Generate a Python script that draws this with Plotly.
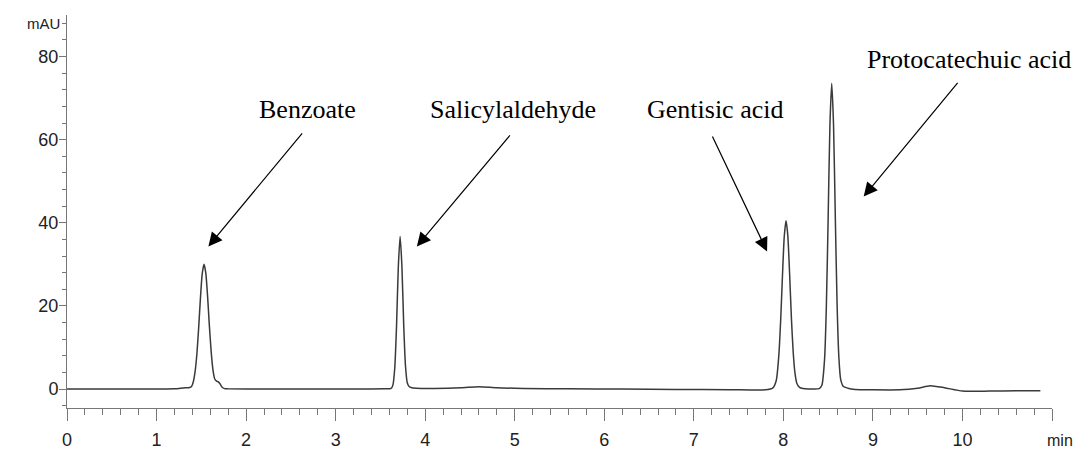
import plotly.graph_objects as go

# ---------------- data ----------------
time_min = [0.00, 0.60, 1.20, 1.30, 1.37, 1.39, 1.41, 1.43, 1.45, 1.47, 1.49, 1.51, 1.53,
            1.55, 1.57, 1.59, 1.61, 1.63, 1.65, 1.67, 1.69, 1.71, 1.73, 1.76, 1.80, 2.20,
            2.80, 3.30, 3.55, 3.62, 3.64, 3.66, 3.68, 3.70, 3.72, 3.74, 3.76, 3.78, 3.80,
            3.82, 3.85, 3.90, 4.10, 4.40, 4.60, 4.80, 5.10, 5.60, 6.20, 6.80, 7.40, 7.80,
            7.88, 7.92, 7.95, 7.97, 7.99, 8.01, 8.03, 8.05, 8.07, 8.09, 8.11, 8.13, 8.15,
            8.18, 8.22, 8.28, 8.34, 8.40, 8.43, 8.46, 8.48, 8.50, 8.52, 8.54, 8.56, 8.58,
            8.60, 8.62, 8.64, 8.67, 8.72, 8.80, 9.00, 9.30, 9.50, 9.64, 9.80, 10.00, 10.30,
            10.60, 10.87]
absorbance_mAU = [0.0, 0.0, 0.05, 0.25, 0.35, 0.6, 1.7, 4.1, 8.3, 14.6, 21.8, 27.7, 30.0,
                  27.9, 22.3, 15.2, 9.0, 4.6, 2.4, 1.9, 1.7, 1.2, 0.5, 0.1, 0.05, 0.0,
                  0.0, 0.0, 0.05, 0.15, 1.0, 5.0, 15.1, 29.4, 36.7, 29.6, 15.6, 5.6, 1.5,
                  0.6, 0.3, 0.2, 0.15, 0.3, 0.55, 0.3, 0.15, 0.05, 0.0, -0.1, -0.15, -0.2,
                  0.2, 2.0, 8.3, 16.6, 27.3, 36.7, 40.5, 36.8, 27.6, 17.0, 8.8, 3.8, 1.4,
                  0.4, 0.1, 0.0, 0.0, 0.1, 0.9, 7.1, 19.8, 41.0, 63.6, 73.6, 63.8, 41.5,
                  20.4, 7.6, 2.3, 0.6, 0.2, -0.1, -0.2, -0.2, 0.2, 0.8, 0.3, -0.5, -0.5,
                  -0.4, -0.4]

compounds = ["Benzoate", "Salicylaldehyde", "Gentisic acid", "Protocatechuic acid"]
x_ticks = [0, 1, 2, 3, 4, 5, 6, 7, 8, 9, 10, 11]
x_tick_labels = ["0", "1", "2", "3", "4", "5", "6", "7", "8", "9", "10", ""]
y_ticks = [0, 20, 40, 60, 80]
y_tick_labels = ["0", "20", "40", "60", "80"]

# ---------------- layout helpers (label / arrow placement) ----------------
label_pos = [  # (x, y, xanchor)
    (2.687, 67.2, "center"),
    (4.034, 67.2, "left"),
    (7.240, 67.2, "center"),
    (10.07, 79.4, "center"),
]
arrows = [  # (tail_x, tail_y, tip_x, tip_y)
    (2.640, 61.9, 1.579, 34.3),
    (4.960, 61.4, 3.907, 34.3),
    (7.200, 61.1, 7.818, 33.1),
    (9.960, 74.0, 8.897, 46.3),
]

AX = "#777777"
fig = go.Figure()
fig.add_trace(go.Scatter(x=time_min, y=absorbance_mAU, mode="lines",
                         line=dict(color="#3a3a3a", width=1.5, shape="spline", smoothing=0.6),
                         hoverinfo="skip"))

ann = []
for name, (lx, ly, anc) in zip(compounds, label_pos):
    ann.append(dict(x=lx, y=ly, xref="x", yref="y", text=name, showarrow=False,
                    xanchor=anc, yanchor="middle",
                    font=dict(family="Liberation Serif", size=26, color="black")))
for (tx, ty, hx, hy) in arrows:
    ann.append(dict(x=hx, y=hy, ax=tx, ay=ty, xref="x", yref="y", axref="x", ayref="y",
                    text="", showarrow=True, arrowhead=2, arrowsize=2.3, arrowwidth=1.2,
                    arrowcolor="black"))
ann.append(dict(x=0, y=88, xref="paper", yref="y", text="mAU", showarrow=False,
                xanchor="right", yanchor="middle", xshift=-5,
                font=dict(family="Liberation Sans", size=15, color="#222")))
ann.append(dict(x=1, y=0, xref="paper", yref="paper", text="min", showarrow=False,
                xanchor="center", yanchor="middle", xshift=8, yshift=-32,
                font=dict(family="Liberation Sans", size=16, color="#222")))

fig.update_layout(
    width=1082, height=452,
    margin=dict(l=67, r=30, t=15, b=44),
    plot_bgcolor="white", paper_bgcolor="white",
    showlegend=False,
    annotations=ann,
    xaxis=dict(range=[0, 11], showgrid=False, zeroline=False, showline=True,
               automargin=False,
               linecolor=AX, linewidth=1, ticks="outside", ticklen=12, tickcolor=AX,
               tickwidth=1, tickmode="array", tickvals=x_ticks, ticktext=x_tick_labels,
               ticklabelstandoff=3,
               tickfont=dict(family="Liberation Sans", size=18, color="#222"),
               minor=dict(ticks="outside", dtick=0.2, tick0=0, ticklen=6, tickcolor=AX,
                          tickwidth=1, showgrid=False)),
    yaxis=dict(range=[-4.57, 90], showgrid=False, zeroline=False, showline=True,
               automargin=False,
               linecolor=AX, linewidth=1, ticks="outside", ticklen=7, tickcolor=AX,
               tickwidth=1, tickmode="array", tickvals=y_ticks, ticktext=y_tick_labels,
               ticklabelstandoff=-3,
               tickfont=dict(family="Liberation Sans", size=18, color="#222"),
               minor=dict(ticks="outside", dtick=4, tick0=0, ticklen=4, tickcolor=AX,
                          tickwidth=1, showgrid=False)),
)

fig.write_html("out.html")
